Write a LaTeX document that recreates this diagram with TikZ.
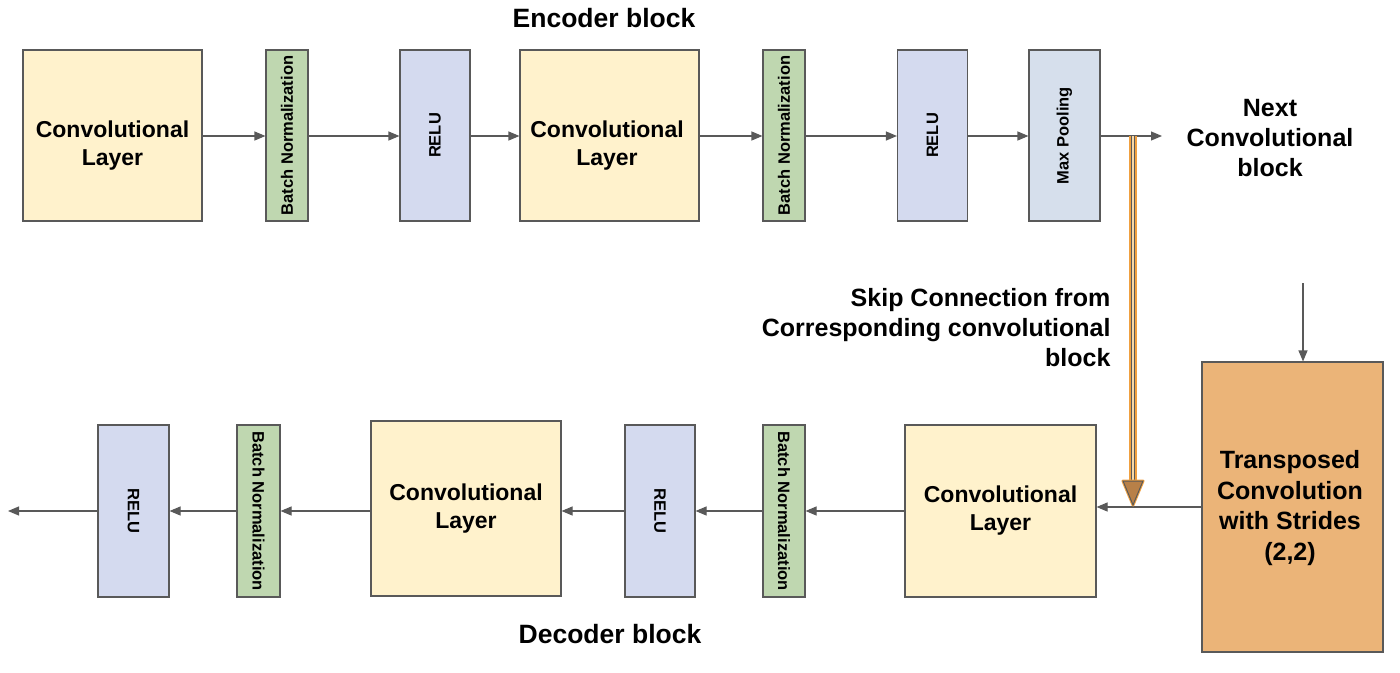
\documentclass[tikz,border=0pt]{standalone}
\usepackage{fontspec}
\setmainfont{Liberation Sans}
\usetikzlibrary{arrows.meta}
\definecolor{convfill}{HTML}{FFF2CC}
\definecolor{bnfill}{HTML}{BFD7B0}
\definecolor{relufill}{HTML}{D4DAEF}
\definecolor{mpfill}{HTML}{D6DFEC}
\definecolor{trfill}{HTML}{EBB478}
\definecolor{edge}{HTML}{595959}
\definecolor{skipor}{HTML}{F0A040}
\definecolor{skiplight}{HTML}{F6D8A8}
\definecolor{tipfill}{HTML}{B88048}
\tikzset{
  box/.style={draw=edge, line width=1.1pt, rectangle, inner sep=0pt},
  convbox/.style={box, fill=convfill, align=center, font=\fontsize{23}{28}\selectfont\bfseries},
  convtext/.style={align=center, inner sep=0pt, font=\fontsize{23}{28}\selectfont\bfseries},
  bnbox/.style={box, fill=bnfill, minimum width=42pt},
  relubox/.style={box, fill=relufill, minimum width=70pt},
  mpbox/.style={box, fill=mpfill, minimum width=71pt},
  vtext/.style={font=\fontsize{16.5}{18}\selectfont\bfseries, inner sep=0pt},
  title/.style={font=\fontsize{25}{30}\selectfont\bfseries, align=center},
  arr/.style={draw=edge, line width=1.1pt, -{Triangle[length=11pt,width=9pt]}},
}
\begin{document}
\begin{tikzpicture}[x=1pt,y=-1pt]
\useasboundingbox (0,0) rectangle (1400,672);
% encoder row
\node[convbox, minimum width=179pt, minimum height=171pt] (c1) at (112.5,135.5) {};
\node[convtext] (c1t) at (112.5,146) {Convolutional\\Layer};
\node[bnbox, minimum height=171pt] (b1) at (287,135.5) {};
\node[vtext, rotate=90] (b1t) at (b1.center) {Batch Normalization};
\node[relubox, minimum height=171pt] (r1) at (435,135.5) {};
\node[vtext, rotate=90] (r1t) at (r1.center) {RELU};
\node[convbox, minimum width=179pt, minimum height=171pt] (c2) at (609.5,135.5) {};
\node[convtext] (c2t) at (607,146) {Convolutional\\Layer};
\node[bnbox, minimum height=171pt] (b2) at (784,135.5) {};
\node[vtext, rotate=90] (b2t) at (b2.center) {Batch Normalization};
\node[relubox, minimum height=171pt] (r2) at (932.5,135.5) {};
\node[vtext, rotate=90] (r2t) at (r2.center) {RELU};
\node[mpbox, minimum height=171pt] (mp) at (1064.5,135.5) {};
\node[vtext, rotate=90] (mpt) at (mp.center) {Max Pooling};
% decoder row
\node[box, fill=trfill, minimum width=181pt, minimum height=290pt] (tr) at (1292.5,507) {};
\node[title, inner sep=0pt, font=\fontsize{25}{30.5}\selectfont\bfseries] (trt) at (1290,508) {Transposed\\Convolution\\with Strides\\(2,2)};
\node[convbox, minimum width=191pt, minimum height=172pt] (c3) at (1000.5,511) {Convolutional\\Layer};
\node[bnbox, minimum height=172pt] (b3) at (784,511) {};
\node[vtext, rotate=-90] (b3t) at (b3.center) {Batch Normalization};
\node[relubox, minimum height=172pt] (r3) at (660,511) {};
\node[vtext, rotate=-90] (r3t) at (r3.center) {RELU};
\node[convbox, minimum width=190pt, minimum height=175pt] (c4) at (466,508.5) {Convolutional\\Layer};
\node[bnbox, minimum width=43pt, minimum height=172pt] (b4) at (258.5,511) {};
\node[vtext, rotate=-90] (b4t) at (b4.center) {Batch Normalization};
\node[relubox, minimum width=71pt, minimum height=172pt] (r4) at (133.5,511) {};
\node[vtext, rotate=-90] (r4t) at (r4.center) {RELU};
% titles
\node[title, font=\fontsize{26.5}{30}\selectfont\bfseries] (enc) at (604,18) {Encoder block};
\node[title, font=\fontsize{26.5}{30}\selectfont\bfseries] (dec) at (610,634) {Decoder block};
\node[title] (next) at (1270,138) {Next\\Convolutional\\block};
\node[title, align=right, anchor=east] (skt) at (1114,328) {Skip Connection from\\Corresponding convolutional\\block};
% coordinates
\coordinate (nx) at (1162,136);
\coordinate (sk) at (1133,136);
\coordinate (skb) at (1133,481);
\coordinate (out) at (8,511);
\coordinate (trin) at (1303,283);
% encoder arrows
\draw[arr] (c1.east |- 0,136) -- (b1.west |- 0,136);
\draw[arr] (b1.east |- 0,136) -- (r1.west |- 0,136);
\draw[arr] (r1.east |- 0,136) -- (c2.west |- 0,136);
\draw[arr] (c2.east |- 0,136) -- (b2.west |- 0,136);
\draw[arr] (b2.east |- 0,136) -- (r2.west |- 0,136);
\draw[arr] (r2.east |- 0,136) -- (mp.west |- 0,136);
\draw[arr] (mp.east |- 0,136) -- (nx);
% decoder arrows
\draw[arr] (trin) -- (tr.north -| trin);
\draw[arr] (tr.west |- 0,507) -- (c3.east |- 0,507);
\draw[arr] (c3.west |- 0,511) -- (b3.east |- 0,511);
\draw[arr] (b3.west |- 0,511) -- (r3.east |- 0,511);
\draw[arr] (r3.west |- 0,511) -- (c4.east |- 0,511);
\draw[arr] (c4.west |- 0,511) -- (b4.east |- 0,511);
\draw[arr] (b4.west |- 0,511) -- (r4.east |- 0,511);
\draw[arr] (r4.west |- 0,511) -- (out);
% skip connection
\draw[skipor, line width=8pt] (sk) -- (skb);
\draw[edge, line width=4.5pt] (sk) -- (skb);
\draw[skiplight, line width=1.8pt] (sk) -- (skb);
\draw[skipor, line width=3pt, line join=round] (1123,481) -- (1143,481) -- (1133,505) -- cycle;
\draw[edge, line width=1pt, fill=tipfill] (1123,481) -- (1143,481) -- (1133,505) -- cycle;
\end{tikzpicture}
\end{document}
